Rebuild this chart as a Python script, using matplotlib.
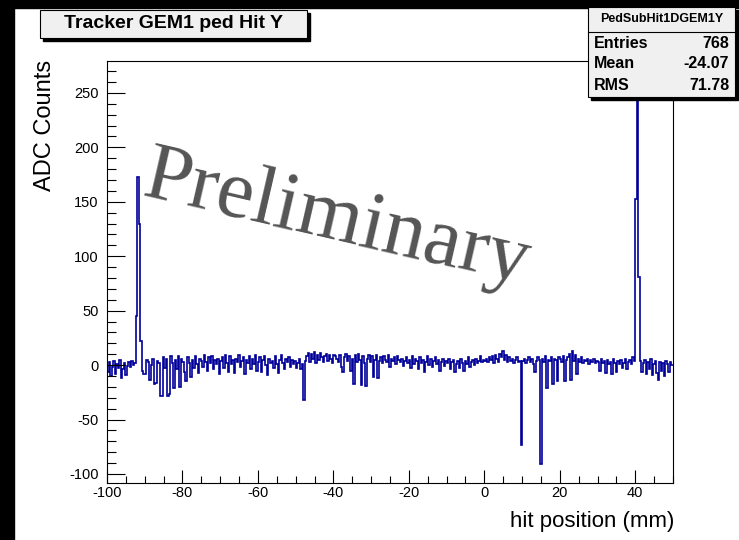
import matplotlib
matplotlib.use("Agg")
import matplotlib.pyplot as plt
from matplotlib.patches import Rectangle
from matplotlib.ticker import MultipleLocator
import numpy as np

plt.rcParams['font.family'] = ['Liberation Sans', 'DejaVu Sans']
plt.rcParams['axes.unicode_minus'] = False

# histogram: 0.4 mm bins from -100 to 50 mm, ADC counts
x_min, x_max, bin_w = -100.0, 50.0, 0.4
adc_m100 = [-6, 3, -10, -2, 4, -8, 1, -3, 5, -12, -4, 2, -9, -1, 3, -2, 4, 0, 2, 45, 173, 130, 22, -5, -8]
adc_m90 = [-8, 5, 3, -14, 0, 6, -17, -16, 4, 2, -28, -28, 7, -3, 6, -28, -27, 8, 2, -21, 5, -4, 8, -20, 6]
adc_m80 = [3, -6, -15, 7, 2, -11, 5, -3, 8, 1, -7, 6, 4, -2, 9, 3, -5, 7, 2, 8, -4, 5, 1, 6, -8]
adc_m70 = [4, 7, -3, 9, 2, -6, 8, 1, 5, -7, 6, 3, 9, -2, 4, 7, -8, 5, 2, 8, -4, 6, 1, 9, -5]
adc_m60 = [3, 7, -6, 5, 8, 0, -9, 6, 2, 4, -3, 8, 1, -7, 5, 9, 2, -4, 6, 3, 7, -2, 5, 1, 4]
adc_m50 = [-3, 2, 6, -4, 1, -32, 4, 8, 11, 3, 10, 6, 12, 2, 9, 5, 11, 7, 3, 8, 10, 4, 9, 6, 2]
adc_m40 = [9, 8, 6, 3, 9, -2, -6, 7, 10, 4, 8, -5, 6, -17, 9, 3, 10, 5, -18, 8, 2, -19, 6, 9, 3]
adc_m30 = [8, -11, 5, 9, -12, 4, 7, 2, 8, 5, 3, 9, -2, 6, 4, 7, 1, 8, 5, 3, 6, -1, 4, 7, 2]
adc_m20 = [5, -3, 8, 1, 6, 4, -4, 7, 2, 5, -6, 3, 8, 0, 6, -2, 4, 7, 1, 5, -5, 3, 6, -1, 4]
adc_m10 = [2, 6, -4, 3, 5, -6, 1, 4, -3, 6, 2, -5, 4, 1, 7, -2, 3, 5, 0, 6, 2, 4, 8, 3, 5]
adc_p0 = [4, 6, 3, 7, 5, 8, 2, 9, 6, 3, 10, 7, 13, 5, 9, 3, 7, 4, 6, 2, 5, 7, 3, 4, -73]
adc_p10 = [4, 6, 2, 5, 7, 3, 6, 1, -6, 4, 7, 5, -91, 6, 3, 8, -21, 5, 4, 7, -17, 6, 5, -15, 7]
adc_p20 = [6, 3, 8, -15, 5, 7, 10, -14, 13, 4, 9, -8, 6, 3, 7, 2, 5, 4, 6, 1, 5, 3, 6, 2, 4]
adc_p30 = [3, -5, 6, 2, 4, -7, 5, 1, 3, -8, 6, 2, -6, 4, 1, 5, -3, 2, 6, -4, 3, 5, 1, 7, 4]
adc_p40 = [153, 300, 81, 4, -6, 2, 5, -8, 3, -4, 6, -9, 1, 4, -7, -14, 3, -5, 2, -10, 4, 1, -6, 3, 0]

adc = np.array(adc_m100 + adc_m90 + adc_m80 + adc_m70 + adc_m60 + adc_m50 + adc_m40
               + adc_m30 + adc_m20 + adc_m10 + adc_p0 + adc_p10 + adc_p20 + adc_p30 + adc_p40, float)
edges = x_min + bin_w * np.arange(len(adc) + 1)

title = 'Tracker GEM1 ped Hit Y'
stats_name = 'PedSubHit1DGEM1Y'
stats_rows = [('Entries', '768'), ('Mean', '-24.07'), ('RMS', '71.78')]

W, H = 739, 540
def fx(px):
    return px / W
def fy(py):
    return 1 - py / H

fig = plt.figure(figsize=(W / 100, H / 100), dpi=100)
fig.patch.set_facecolor('white')

# black frame strips (top and left)
fig.patches.append(Rectangle((0, fy(8)), 1, 8 / H, transform=fig.transFigure, color='black', zorder=0))
fig.patches.append(Rectangle((0, 0), 14 / W, 1, transform=fig.transFigure, color='black', zorder=0))

ax = fig.add_axes([fx(107), fy(483), 566 / W, 422 / H])
ax.stairs(adc, edges, color='#000099', lw=1.2)
ax.set_xlim(x_min, x_max)
ax.set_ylim(-108.3, 279.3)

ax.xaxis.set_major_locator(MultipleLocator(20))
ax.xaxis.set_minor_locator(MultipleLocator(5))
ax.yaxis.set_major_locator(MultipleLocator(50))
ax.yaxis.set_minor_locator(MultipleLocator(10))
ax.tick_params(axis='x', which='major', direction='in', length=9.4, width=0.8, labelsize=10.5, pad=2)
ax.tick_params(axis='x', which='minor', direction='in', length=5, width=0.8)
ax.tick_params(axis='y', which='major', direction='in', length=13, width=0.8, labelsize=10.5, pad=6)
ax.tick_params(axis='y', which='minor', direction='in', length=6.5, width=0.8)
for s in ax.spines.values():
    s.set_linewidth(0.8)

fig.text(fx(45), fy(60), 'ADC Counts', rotation=90, ha='center', va='top', fontsize=17)
fig.text(fx(674), fy(522), 'hit position (mm)', ha='right', va='center', fontsize=16)

# title box
fig.patches.append(Rectangle((fx(43), fy(41)), 267 / W, 28 / H, transform=fig.transFigure,
                             color='black', zorder=5))
fig.patches.append(Rectangle((fx(40), fy(38)), 267 / W, 28 / H, transform=fig.transFigure,
                             facecolor='#f0f0f0', edgecolor='black', lw=0.8, zorder=6))
fig.text(fx(173), fy(23), title, ha='center', va='center', fontsize=14, fontweight='bold', zorder=7)

# stats box
fig.patches.append(Rectangle((fx(591), fy(100)), 147 / W, 90 / H, transform=fig.transFigure,
                             color='black', zorder=5))
fig.patches.append(Rectangle((fx(588), fy(97)), 147 / W, 90 / H, transform=fig.transFigure,
                             facecolor='#f0f0f0', edgecolor='black', lw=0.8, zorder=6))
fig.add_artist(plt.Line2D([fx(588), fx(735)], [fy(32), fy(32)], color='black', lw=0.8, zorder=7))
fig.text(fx(662), fy(19), stats_name, ha='center', va='center', fontsize=9, fontweight='bold', zorder=7)
for i, (lab, val) in enumerate(stats_rows):
    yy = fy(43 + 21 * i)
    fig.text(fx(594), yy, lab, ha='left', va='center', fontsize=11.5, fontweight='bold', zorder=7)
    fig.text(fx(729), yy, val, ha='right', va='center', fontsize=11.5, fontweight='bold', zorder=7)

fig.text(fx(337), fy(220), 'Preliminary', fontsize=60, family='Liberation Serif', color='#555555',
         rotation=-13, ha='center', va='center', rotation_mode='anchor', zorder=8)

fig.savefig('out.png', dpi=100)
